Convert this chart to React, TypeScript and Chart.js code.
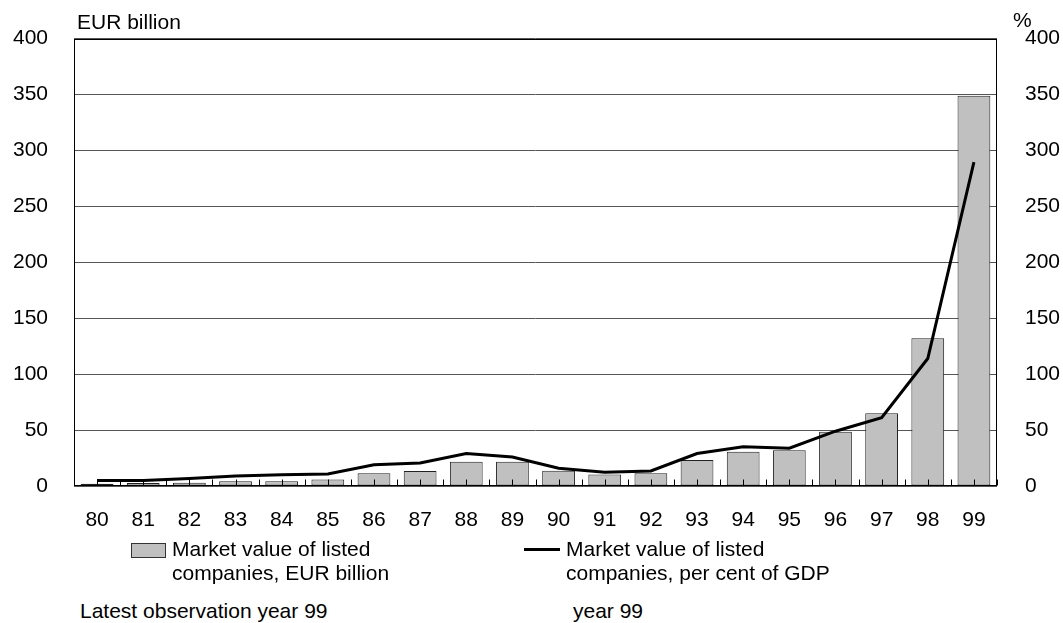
import React, { useEffect, useRef } from "react";
import { Chart, registerables } from "chart.js";

Chart.register(...registerables);

const categories = ["80", "81", "82", "83", "84", "85", "86", "87", "88", "89", "90", "91", "92", "93", "94", "95", "96", "97", "98", "99"];
const marketValueEUR = [2, 2.6, 2.8, 4.3, 4.3, 5.8, 11.4, 13.5, 21.7, 21.7, 13.7, 10.2, 11.3, 23.3, 30.6, 32, 48.6, 65, 132, 349];
const marketValuePctGDP = [4.9, 5, 6.6, 9, 10, 10.8, 19, 20.6, 29, 26, 15.8, 12.2, 13.5, 29, 35, 33.8, 49, 61, 114, 289.5];
const axisMin = 0;
const axisMax = 400;
const axisStep = 50;

const FONT = '"Liberation Sans", Arial, sans-serif';

const frameAndTicks = {
  id: "frameAndTicks",
  afterDraw(chart: any) {
    const { ctx, chartArea } = chart;
    const x = chart.scales.x;
    ctx.save();
    ctx.strokeStyle = "#000";
    ctx.lineWidth = 1;
    const l = Math.round(chartArea.left) + 0.5;
    const r = Math.round(chartArea.right) - 0.5;
    const t = Math.round(chartArea.top) + 0.5;
    const b = Math.round(chartArea.bottom) - 0.5;
    ctx.strokeRect(l, t, r - l, b - t);
    ctx.beginPath();
    for (let i = 0; i <= categories.length; i++) {
      const px = Math.round(x.getPixelForValue(i - 0.5)) + 0.5;
      ctx.moveTo(px, b);
      ctx.lineTo(px, b - 6);
    }
    for (let i = 0; i < categories.length; i++) {
      const px = Math.round(x.getPixelForValue(i)) + 0.5;
      ctx.moveTo(px, b);
      ctx.lineTo(px, b - 6);
    }
    ctx.stroke();
    ctx.restore();
  },
};

export default function App() {
  const ref = useRef<HTMLCanvasElement | null>(null);

  useEffect(() => {
    if (!ref.current) return;
    const chart = new Chart(ref.current, {
      type: "bar",
      data: {
        labels: categories,
        datasets: [
          {
            type: "line",
            label: "Market value of listed companies, per cent of GDP",
            data: marketValuePctGDP,
            yAxisID: "y2",
            borderColor: "#000",
            borderWidth: 3,
            pointRadius: 0,
            tension: 0,
            fill: false,
            order: 1,
          } as any,
          {
            type: "bar",
            label: "Market value of listed companies, EUR billion",
            data: marketValueEUR,
            yAxisID: "y",
            backgroundColor: "#c0c0c0",
            borderColor: "#222",
            borderWidth: 1,
            borderSkipped: false,
            barPercentage: 0.71,
            categoryPercentage: 1,
            order: 2,
          } as any,
        ],
      },
      options: {
        responsive: false,
        animation: false,
        devicePixelRatio: 1,
        layout: { padding: { top: 34, left: 0, right: 0, bottom: 0 } },
        plugins: { legend: { display: false }, tooltip: { enabled: false }, title: { display: false } },
        scales: {
          x: {
            type: "category",
            offset: true,
            grid: { display: false },
            border: { display: false },
            ticks: {
              color: "#000",
              font: { family: FONT, size: 21 },
              padding: 14,
              maxRotation: 0,
              autoSkip: false,
            },
            afterFit: (s: any) => {
              s.height = 540 - 486;
            },
          },
          y: {
            position: "left",
            min: axisMin,
            max: axisMax,
            grid: { color: "#555", drawTicks: false, lineWidth: 1 },
            border: { display: false },
            ticks: {
              stepSize: axisStep,
              color: "#000",
              font: { family: FONT, size: 21 },
              padding: 26,
            },
            afterFit: (s: any) => {
              s.width = 74;
            },
          },
          y2: {
            position: "right",
            min: axisMin,
            max: axisMax,
            grid: { display: false, drawOnChartArea: false },
            border: { display: false },
            ticks: {
              stepSize: axisStep,
              color: "#000",
              font: { family: FONT, size: 21 },
              padding: 20,
            },
            afterFit: (s: any) => {
              s.width = 1063 - 997;
            },
          },
        },
      } as any,
      plugins: [frameAndTicks],
    });
    return () => chart.destroy();
  }, []);

  const text: React.CSSProperties = {
    position: "absolute",
    fontFamily: FONT,
    fontSize: 21,
    lineHeight: "24px",
    color: "#000",
    whiteSpace: "nowrap",
  };

  return (
    <div style={{ position: "fixed", left: 0, top: 0, width: 1063, height: 623, background: "#fff", overflow: "hidden" }}>
      <canvas ref={ref} width={1063} height={540} style={{ position: "absolute", left: 0, top: 0 }} />
      <div style={{ ...text, left: 77, top: 10 }}>EUR billion</div>
      <div style={{ ...text, left: 1013, top: 8 }}>%</div>
      <div style={{ position: "absolute", left: 131, top: 543, width: 33, height: 13, background: "#c0c0c0", border: "1px solid #333" }} />
      <div style={{ ...text, left: 172, top: 537 }}>
        Market value of listed
        <br />
        companies, EUR billion
      </div>
      <div style={{ position: "absolute", left: 524, top: 548, width: 36, height: 3, background: "#000" }} />
      <div style={{ ...text, left: 566, top: 537 }}>
        Market value of listed
        <br />
        companies, per cent of GDP
      </div>
      <div style={{ ...text, left: 80, top: 599 }}>Latest observation year 99</div>
      <div style={{ ...text, left: 573, top: 599 }}>year 99</div>
    </div>
  );
}
